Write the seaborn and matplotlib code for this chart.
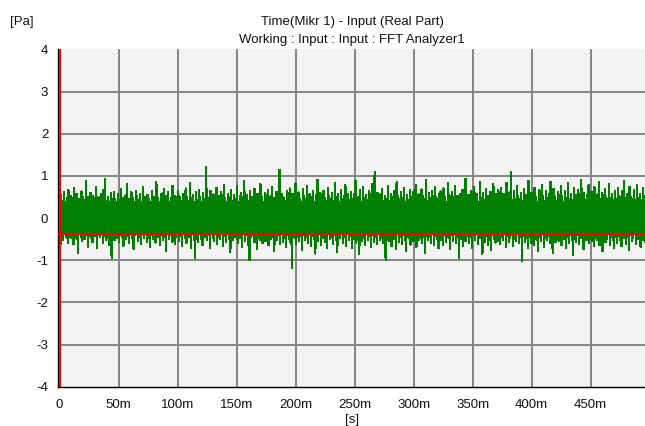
import numpy as np
import pandas as pd
import matplotlib
matplotlib.use("Agg")
import matplotlib.pyplot as plt
import seaborn as sns

# ---- data ----
# The analyzer draws the time signal as min/max per display column:
# upper_pa = local maxima, lower_pa = local minima, in time order.
t_end = 0.4961  # seconds, last displayed time
upper_pa = [
    1.02, 0.55, 0.41, 0.62, 0.38, 0.47, 0.66, 0.35, 0.52, 0.44, 0.71, 0.39, 0.58, 0.46, 0.37, 0.63, 0.49, 0.42, 0.88, 0.51,
    0.36, 0.60, 0.45, 0.53, 0.40, 0.74, 0.48, 0.39, 0.56, 0.43, 0.67, 0.93, 0.41, 0.50, 0.37, 0.59, 0.46, 0.62, 0.44, 0.38,
    0.57, 0.42, 0.69, 0.48, 0.36, 0.54, 0.81, 0.45, 0.40, 0.61, 0.47, 0.38, 0.65, 0.52, 0.43, 0.58, 0.39, 0.73, 0.49, 0.41,
    0.55, 0.46, 0.37, 0.64, 0.50, 0.42, 0.86, 0.48, 0.39, 0.57, 0.44, 0.68, 0.40, 0.53, 0.61, 0.38, 0.47, 0.77, 0.45, 0.52,
    0.41, 0.63, 0.49, 0.36, 0.58, 0.44, 0.70, 0.51, 0.40, 0.83, 0.47, 0.55, 0.38, 0.62, 0.43, 0.66, 0.50, 0.39, 0.59, 0.46,
    1.22, 0.48, 0.42, 0.64, 0.37, 0.56, 0.45, 0.72, 0.40, 0.53, 0.61, 0.44, 0.79, 0.47, 0.38, 0.58, 0.50, 0.67, 0.41, 0.54,
    0.46, 0.75, 0.39, 0.52, 0.60, 0.43, 0.87, 0.48, 0.55, 0.41, 0.63, 0.50, 0.38, 0.69, 0.45, 0.57, 0.42, 0.80, 0.49, 0.36,
    0.59, 0.44, 0.66, 0.40, 0.53, 0.73, 0.47, 0.39, 0.62, 0.51, 1.15, 0.43, 0.56, 0.48, 0.37, 0.64, 0.45, 0.70, 0.41, 0.58,
    0.50, 0.82, 0.42, 0.61, 0.46, 0.38, 0.68, 0.52, 0.44, 0.76, 0.40, 0.57, 0.49, 0.63, 0.39, 0.54, 0.91, 0.45, 0.59, 0.43,
    0.65, 0.47, 0.38, 0.71, 0.52, 0.44, 0.60, 0.41, 0.84, 0.49, 0.56, 0.37, 0.67, 0.46, 0.53, 0.78, 0.42, 0.58, 0.40, 0.62,
    0.45, 0.57, 0.88, 0.43, 0.51, 0.66, 0.39, 0.74, 0.48, 0.55, 0.42, 0.63, 0.50, 0.81, 0.44, 1.10, 0.47, 0.60, 0.38, 0.56,
    0.69, 0.41, 0.53, 0.46, 0.77, 0.40, 0.58, 0.49, 0.64, 0.37, 0.85, 0.52, 0.44, 0.61, 0.47, 0.72, 0.39, 0.55, 0.43, 0.67,
    0.50, 0.62, 0.42, 0.79, 0.46, 0.56, 0.38, 0.68, 0.53, 0.45, 0.90, 0.41, 0.59, 0.48, 0.65, 0.40, 0.74, 0.51, 0.44, 0.57,
    0.63, 0.43, 0.70, 0.49, 0.37, 0.82, 0.54, 0.46, 0.61, 0.40, 0.76, 0.52, 0.45, 0.58, 0.42, 0.67, 0.48, 0.93, 0.44, 0.55,
    0.41, 0.64, 0.50, 0.73, 0.45, 0.57, 0.39, 0.86, 0.47, 0.60, 0.43, 0.69, 0.52, 0.38, 0.62, 0.48, 0.80, 0.44, 0.56, 0.66,
    0.47, 0.71, 0.42, 0.58, 0.50, 0.84, 0.45, 0.61, 1.10, 0.43, 0.65, 0.39, 0.77, 0.52, 0.46, 0.59, 0.41, 0.68, 0.54, 0.44,
    0.88, 0.48, 0.60, 0.42, 0.72, 0.51, 0.38, 0.66, 0.45, 0.79, 0.53, 0.41, 0.63, 0.47, 0.57, 0.86, 0.43, 0.69, 0.50, 0.40,
    0.61, 0.46, 0.75, 0.52, 0.39, 0.64, 0.48, 0.83, 0.44, 0.58, 0.42, 0.70, 0.55, 0.37, 0.67, 0.49, 0.91, 0.45, 0.59, 0.43,
    0.54, 0.78, 0.41, 0.62, 0.47, 0.73, 0.40, 0.56, 0.85, 0.45, 0.60, 0.38, 0.69, 0.51, 0.44, 0.81, 0.48, 0.57, 0.42, 0.65,
    0.46, 0.70, 0.53, 0.41, 0.63, 0.87, 0.44, 0.58, 0.39, 0.74, 0.50, 0.45, 0.66, 0.42, 0.79, 0.48, 0.56, 0.40, 0.71, 0.52,
]
lower_pa = [
    -0.65, -0.38, -0.52, -0.31, -0.44, -0.58, -0.34, -0.47, -0.40, -0.62, -0.33, -0.49, -0.83, -0.37, -0.45, -0.55, -0.32, -0.50, -0.41, -0.68,
    -0.36, -0.48, -0.57, -0.33, -0.43, -0.71, -0.39, -0.46, -0.35, -0.60, -0.42, -0.51, -0.37, -0.64, -0.44, -0.95, -0.40, -0.53, -0.34, -0.47,
    -0.56, -0.39, -0.45, -0.66, -0.32, -0.50, -0.42, -0.59, -0.36, -0.48, -0.74, -0.41, -0.35, -0.54, -0.44, -0.62, -0.38, -0.47, -0.33, -0.57,
    -0.43, -0.69, -0.37, -0.50, -0.40, -0.58, -0.34, -0.46, -0.63, -0.39, -0.52, -0.44, -0.78, -0.36, -0.49, -0.41, -0.56, -0.33, -0.61, -0.45,
    -0.38, -0.54, -0.42, -0.67, -0.35, -0.48, -0.59, -0.40, -0.45, -0.72, -0.37, -0.51, -0.95, -0.43, -0.57, -0.34, -0.49, -0.64, -0.39, -0.46,
    -0.53, -0.41, -0.70, -0.36, -0.47, -0.55, -0.33, -0.61, -0.44, -0.50, -0.38, -0.66, -0.42, -0.57, -0.35, -0.49, -0.81, -0.40, -0.52, -0.45,
    -0.37, -0.59, -0.43, -0.48, -0.68, -0.35, -0.54, -0.41, -0.63, -1.00, -0.46, -0.39, -0.57, -0.44, -0.73, -0.36, -0.51, -0.42, -0.60, -0.47,
    -0.55, -0.38, -0.65, -0.43, -0.49, -0.36, -0.77, -0.45, -0.52, -0.40, -0.61, -0.34, -0.56, -0.47, -0.69, -0.41, -0.50, -0.58, -1.18, -0.44,
    -0.48, -0.62, -0.37, -0.54, -0.42, -0.75, -0.39, -0.51, -0.46, -0.58, -0.35, -0.66, -0.43, -0.50, -0.84, -0.40, -0.55, -0.38, -0.63, -0.47,
    -0.41, -0.57, -0.70, -0.36, -0.49, -0.44, -0.61, -0.39, -0.53, -0.80, -0.42, -0.47, -0.35, -0.59, -0.45, -0.67, -0.38, -0.52, -0.43, -0.72,
    -0.50, -0.37, -0.58, -0.44, -0.86, -0.40, -0.55, -0.47, -0.64, -0.36, -0.51, -0.42, -0.69, -0.39, -0.57, -0.45, -0.62, -0.34, -0.53, -0.48,
    -0.59, -0.41, -1.00, -0.46, -0.54, -0.38, -0.66, -0.43, -0.50, -0.73, -0.37, -0.56, -0.44, -0.61, -0.40, -0.52, -0.79, -0.45, -0.48, -0.63,
    -0.42, -0.55, -0.39, -0.68, -0.47, -0.51, -0.36, -0.60, -0.44, -0.82, -0.41, -0.53, -0.46, -0.58, -0.37, -0.65, -0.43, -0.49, -0.71, -0.40,
    -0.52, -0.63, -0.38, -0.57, -0.45, -0.48, -0.74, -0.41, -0.54, -0.36, -0.60, -0.44, -0.95, -0.50, -0.39, -0.67, -0.47, -0.55, -0.42, -0.59,
    -0.46, -0.70, -0.40, -0.53, -0.37, -0.62, -0.48, -0.44, -0.85, -0.39, -0.56, -0.43, -0.64, -0.51, -0.76, -0.41, -0.49, -0.58, -0.36, -0.54,
    -0.61, -0.45, -0.52, -0.38, -0.69, -0.43, -0.57, -0.47, -0.40, -0.66, -0.49, -0.54, -0.37, -0.60, -0.44, -1.02, -0.42, -0.56, -0.48, -0.72,
    -0.39, -0.58, -0.46, -0.63, -0.41, -0.51, -0.77, -0.44, -0.55, -0.38, -0.68, -0.47, -0.53, -0.42, -0.60, -0.45, -0.83, -0.40, -0.57, -0.49,
    -0.54, -0.43, -0.65, -0.37, -0.50, -0.71, -0.46, -0.59, -0.41, -0.52, -0.88, -0.44, -0.56, -0.39, -0.62, -0.48, -0.45, -0.74, -0.42, -0.53,
    -0.47, -0.60, -0.38, -0.55, -0.67, -0.43, -0.51, -0.40, -0.64, -0.46, -0.79, -0.41, -0.57, -0.49, -0.36, -0.63, -0.44, -0.52, -0.70, -0.45,
    -0.58, -0.42, -0.53, -0.66, -0.39, -0.48, -0.61, -0.44, -0.75, -0.40, -0.55, -0.47, -0.36, -0.62, -0.50, -0.43, -0.68, -0.46, -0.52, -0.57,
]
cursor_level = -0.39          # red horizontal cursor [Pa]
cursor_time = 0.0             # red vertical cursor [s]
x_ticks = [0, 0.05, 0.10, 0.15, 0.20, 0.25, 0.30, 0.35, 0.40, 0.45]
x_tick_labels = ["0", "50m", "100m", "150m", "200m", "250m", "300m", "350m", "400m", "450m"]
y_ticks = [-4, -3, -2, -1, 0, 1, 2, 3, 4]
title_line1 = "Time(Mikr 1) - Input (Real Part)"
title_line2 = "Working : Input : Input : FFT Analyzer1"

# interleave max/min in time order
signal_pa = []
for u, l in zip(upper_pa, lower_pa):
    signal_pa.extend([u, l])
time_s = np.linspace(0, t_end, len(signal_pa))
df = pd.DataFrame({"t": time_s, "p": signal_pa})

# ---- figure ----
sns.set_style("white")
plt.rcParams["font.family"] = ["Liberation Sans", "DejaVu Sans"]

fig = plt.figure(figsize=(6.45, 4.26), dpi=100)
ax = fig.add_axes([0.0899, 0.0923, 0.9101, 0.7917])
ax.set_facecolor("#f3f3f3")

sns.lineplot(data=df, x="t", y="p", ax=ax, color="#008000", linewidth=0.9,
             antialiased=False, zorder=3)
ax.axhline(cursor_level, color="#ff0000", linewidth=1.5, zorder=4)
ax.axvline(cursor_time, color="#ff0000", linewidth=1.5, zorder=4)

ax.set_xlim(-0.0014, t_end)
ax.set_ylim(-4, 4)
ax.set_xticks(x_ticks)
ax.set_xticklabels(x_tick_labels)
ax.set_yticks(y_ticks)
ax.set_yticklabels([str(v) for v in y_ticks])

for v in x_ticks[1:]:
    ax.axvline(v, color="#858585", linewidth=1.4, zorder=1)
for v in y_ticks[1:-1]:
    ax.axhline(v, color="#858585", linewidth=1.4, zorder=1)

ax.set_xlabel("")
ax.set_ylabel("")
for s in ["top", "right"]:
    ax.spines[s].set_visible(False)
for s in ["left", "bottom"]:
    ax.spines[s].set_color("black")
    ax.spines[s].set_linewidth(1.0)
ax.tick_params(axis="both", direction="out", length=4, width=1.0, color="black",
               labelsize=9.5, labelcolor="#111111", pad=3)
ax.tick_params(axis="x", pad=5)

fig.text(0.5457, 0.948, title_line1, ha="center", va="center", fontsize=9.5, color="#111111")
fig.text(0.5457, 0.906, title_line2, ha="center", va="center", fontsize=9.5, color="#111111")
fig.text(0.034, 0.948, "[Pa]", ha="center", va="center", fontsize=9.5, color="#111111")
fig.text(0.5457, 0.013, "[s]", ha="center", va="center", fontsize=9.5, color="#111111")

fig.savefig("out.png", dpi=100)
